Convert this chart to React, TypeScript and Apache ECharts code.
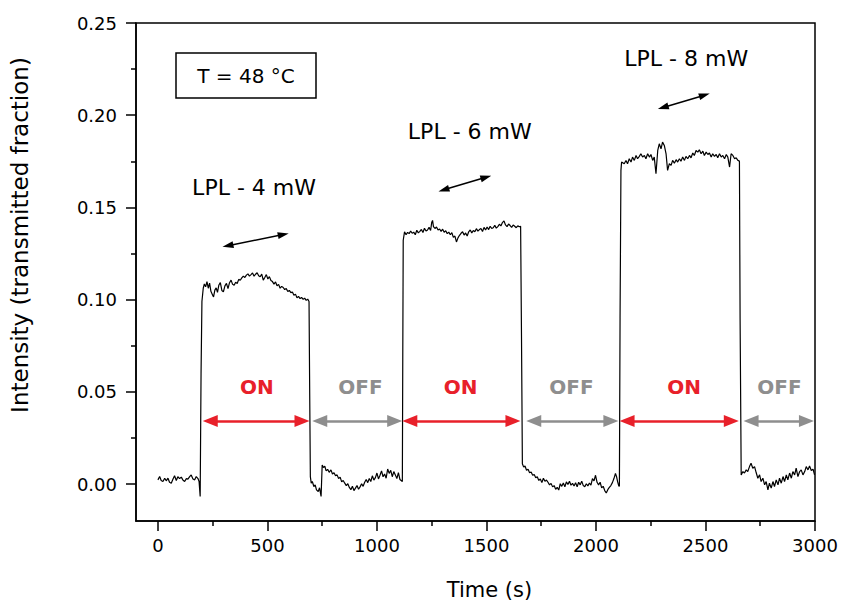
import React, { useEffect, useRef } from 'react';
import * as echarts from 'echarts';

// ---------- data (time in s, intensity as transmitted fraction) ----------
const base0: [number, number][] = [
  [0, 0.0023], [8, 0.0041], [15, 0.002], [23, 0.0014], [31, 0.0032], [38, 0.0018], [46, 0.0032], [53, 0.001],
  [61, 0.0005], [69, 0.0028], [76, 0.0045], [84, 0.002], [91, 0.004], [99, 0.003], [107, 0.0038], [114, 0.0022],
  [122, 0.0014], [130, 0.003], [137, 0.0027], [145, 0.0041], [152, 0.005], [160, 0.0028], [168, 0.0023],
  [175, 0.0041], [183, 0.003], [188, 0.0014], [193, -0.0067], [197, 0.06], [201, 0.099],
];
const on1: [number, number][] = [
  [207, 0.1062], [212, 0.1085], [218, 0.107], [224, 0.1098], [230, 0.1062], [236, 0.109], [242, 0.1045],
  [248, 0.103], [254, 0.1015], [260, 0.1052], [266, 0.1064], [272, 0.104], [278, 0.1078], [285, 0.1093],
  [292, 0.105], [299, 0.1042], [306, 0.1075], [313, 0.1088], [320, 0.106], [327, 0.1092], [334, 0.1106],
  [341, 0.1083], [348, 0.1078], [355, 0.1095], [362, 0.1088], [369, 0.111], [376, 0.1105], [383, 0.1118],
  [390, 0.1128], [397, 0.112], [404, 0.1133], [411, 0.114], [418, 0.1128], [425, 0.1136], [432, 0.1145],
  [439, 0.1127], [446, 0.1138], [453, 0.1146], [460, 0.113], [467, 0.1124], [474, 0.1139], [481, 0.1106],
  [488, 0.112], [495, 0.1136], [502, 0.1112], [509, 0.1125], [516, 0.1104], [523, 0.1098], [530, 0.1084],
  [537, 0.1096], [544, 0.1075], [551, 0.1083], [558, 0.1062], [565, 0.1072], [572, 0.1066], [579, 0.1055],
  [586, 0.106], [593, 0.1044], [600, 0.105], [607, 0.1038], [614, 0.1042], [621, 0.1024], [628, 0.103],
  [635, 0.101], [642, 0.1018], [649, 0.1006], [656, 0.1012], [663, 0.1002], [670, 0.1008], [677, 0.0996],
  [684, 0.1003], [690, 0.099], [693, 0.05],
];
const off1: [number, number][] = [
  [696, 0.0041], [700, 0.0005], [705, 0.0014], [712, -0.0013], [718, -0.0004], [724, -0.0031], [732, -0.004],
  [738, -0.002], [745, -0.0067], [750, 0.0104], [756, 0.009], [762, 0.0098], [768, 0.0072], [775, 0.008],
  [782, 0.0064], [790, 0.0077], [797, 0.0055], [804, 0.0062], [811, 0.0045], [818, 0.005], [825, 0.003],
  [832, 0.0038], [839, 0.0012], [846, 0.002], [853, 0.0005], [860, -0.0008], [867, 0.0002], [874, -0.0018],
  [881, -0.003], [888, -0.0012], [895, -0.0035], [902, -0.0022], [909, -0.0008], [916, -0.0028], [923, -0.0015],
  [930, 0.0002], [937, -0.0012], [944, 0.001], [951, 0.0025], [958, 0.0008], [965, 0.003], [972, 0.0014],
  [979, 0.0045], [986, 0.0022], [993, 0.0035], [1000, 0.006], [1007, 0.0028], [1014, 0.0048], [1021, 0.0072],
  [1028, 0.004], [1035, 0.0055], [1042, 0.0032], [1049, 0.0082], [1056, 0.0058], [1063, 0.0075], [1070, 0.004],
  [1077, 0.0068], [1084, 0.005], [1091, 0.003], [1098, 0.0062], [1105, 0.0025], [1112, 0.0018], [1116, 0.0014],
  [1118, 0.07],
];
const on2: [number, number][] = [
  [1120, 0.1322], [1126, 0.1368], [1133, 0.1352], [1140, 0.1365], [1147, 0.1358], [1154, 0.1372], [1161, 0.136],
  [1168, 0.1366], [1175, 0.1352], [1182, 0.1376], [1189, 0.1362], [1196, 0.137], [1203, 0.1381], [1210, 0.1364],
  [1217, 0.1387], [1224, 0.1372], [1231, 0.1378], [1238, 0.1392], [1245, 0.1375], [1250, 0.1418], [1254, 0.143],
  [1258, 0.1396], [1265, 0.1386], [1272, 0.1394], [1279, 0.1378], [1286, 0.1383], [1293, 0.137], [1300, 0.1382],
  [1307, 0.1365], [1314, 0.1374], [1321, 0.1358], [1328, 0.1366], [1335, 0.1352], [1342, 0.1363], [1349, 0.1338],
  [1356, 0.1345], [1363, 0.1313], [1370, 0.1335], [1377, 0.1349], [1384, 0.136], [1391, 0.1368], [1398, 0.135],
  [1405, 0.1362], [1412, 0.1345], [1419, 0.1368], [1426, 0.1378], [1433, 0.1362], [1440, 0.1375], [1447, 0.1368],
  [1454, 0.1385], [1461, 0.1372], [1468, 0.138], [1475, 0.1386], [1482, 0.137], [1489, 0.1392], [1496, 0.1378],
  [1503, 0.1394], [1510, 0.138], [1517, 0.1398], [1524, 0.1386], [1531, 0.139], [1538, 0.1403], [1545, 0.1388],
  [1552, 0.1396], [1559, 0.1409], [1566, 0.14], [1573, 0.1418], [1580, 0.1427], [1587, 0.1405], [1594, 0.1396],
  [1601, 0.141], [1608, 0.1402], [1615, 0.1392], [1622, 0.1405], [1629, 0.1398], [1636, 0.139], [1643, 0.14],
  [1650, 0.1395], [1656, 0.1398], [1660, 0.08],
];
const off2: [number, number][] = [
  [1664, 0.011], [1670, 0.0092], [1676, 0.0098], [1683, 0.0075], [1690, 0.008], [1697, 0.0062], [1704, 0.0066],
  [1711, 0.0048], [1718, 0.0052], [1725, 0.0035], [1732, 0.004], [1739, 0.002], [1746, 0.0028], [1753, 0.0008],
  [1760, 0.0032], [1767, 0.0015], [1774, 0.0022], [1781, 0.001], [1788, -0.0004], [1795, 0.0004], [1802, -0.0015],
  [1809, -0.0008], [1816, -0.0028], [1823, -0.0018], [1830, -0.0032], [1837, 0.0002], [1844, -0.0012],
  [1851, 0.0006], [1858, -0.0014], [1865, 0.0012], [1872, -0.0002], [1879, 0.0015], [1886, -0.0006],
  [1893, 0.0004], [1900, -0.001], [1907, 0.0008], [1914, -0.0014], [1921, 0.001], [1928, -0.0004], [1935, 0.0016],
  [1942, -0.0008], [1949, -0.0014], [1956, 0.0002], [1963, -0.001], [1970, 0.0006], [1977, -0.0005], [1984, 0.003],
  [1991, 0.0018], [1998, 0.0048], [2005, 0.001], [2012, -0.0004], [2019, 0.001], [2026, -0.002], [2033, -0.0012],
  [2040, -0.0035], [2047, -0.0048], [2054, -0.003], [2061, -0.0018], [2068, -0.0008], [2075, 0.0008],
  [2082, 0.003], [2089, 0.0058], [2094, 0.004], [2099, 0.0012], [2104, -0.001], [2107, -0.0012], [2110, 0.09],
];
const on3: [number, number][] = [
  [2114, 0.1701], [2117, 0.1746], [2129, 0.1737], [2137, 0.1755], [2144, 0.1737], [2152, 0.1764], [2160, 0.1746],
  [2167, 0.1773], [2175, 0.1755], [2183, 0.1782], [2190, 0.1764], [2198, 0.1777], [2205, 0.1791], [2213, 0.1773],
  [2221, 0.1782], [2228, 0.1764], [2236, 0.1791], [2244, 0.1773], [2251, 0.1787], [2259, 0.1755], [2266, 0.1773],
  [2274, 0.1683], [2282, 0.1809], [2289, 0.1845], [2297, 0.1818], [2304, 0.1854], [2312, 0.1836], [2320, 0.1791],
  [2327, 0.1701], [2335, 0.1737], [2343, 0.1728], [2350, 0.1755], [2358, 0.174], [2366, 0.1759], [2373, 0.1746],
  [2381, 0.1764], [2388, 0.1751], [2396, 0.1773], [2404, 0.1755], [2411, 0.1777], [2419, 0.1764], [2427, 0.1782],
  [2434, 0.1769], [2442, 0.1795], [2449, 0.1782], [2457, 0.1809], [2465, 0.18], [2472, 0.1813], [2480, 0.1791],
  [2488, 0.1805], [2495, 0.1782], [2503, 0.18], [2511, 0.1787], [2518, 0.1795], [2526, 0.1773], [2533, 0.1791],
  [2541, 0.1777], [2549, 0.1787], [2556, 0.1769], [2564, 0.1791], [2572, 0.1773], [2579, 0.1782], [2587, 0.1764],
  [2595, 0.1787], [2602, 0.1773], [2610, 0.1719], [2617, 0.1791], [2625, 0.1782], [2633, 0.1764], [2640, 0.1769],
  [2648, 0.1755], [2655, 0.1751], [2658, 0.09],
];
const off3: [number, number][] = [
  [2663, 0.005], [2671, 0.0068], [2678, 0.006], [2686, 0.0077], [2693, 0.0068], [2701, 0.0095], [2708, 0.0113],
  [2716, 0.0086], [2724, 0.0095], [2732, 0.006], [2739, 0.0032], [2747, 0.005], [2754, 0.0014], [2762, 0.0032],
  [2770, -0.0004], [2777, 0.0014], [2785, -0.0031], [2792, 0.0005], [2800, -0.0022], [2808, 0.0014],
  [2815, -0.0013], [2823, 0.0023], [2831, -0.0004], [2838, 0.0032], [2846, 0.0005], [2854, 0.0041],
  [2861, 0.0014], [2869, 0.005], [2876, 0.0023], [2884, 0.006], [2892, 0.0032], [2899, 0.0068], [2907, 0.005],
  [2914, 0.0086], [2922, 0.0041], [2930, 0.0068], [2937, 0.0077], [2945, 0.005], [2953, 0.0068], [2960, 0.0095],
  [2968, 0.0077], [2975, 0.0099], [2983, 0.0074], [2991, 0.0081], [2998, 0.005],
];

const xMajorTicks = [0, 500, 1000, 1500, 2000, 2500, 3000];
const xMinorTicks = [250, 750, 1250, 1750, 2250, 2750];
const yMajorTicks = [0, 0.05, 0.1, 0.15, 0.2, 0.25];
const yMinorTicks = [0.025, 0.075, 0.125, 0.175, 0.225];

const onSpans: [number, number][] = [[207, 690], [1118, 1653], [2110, 2650]];
const offSpans: [number, number][] = [[707, 1113], [1684, 2100], [2676, 2993]];
const spanLevel = 0.0342;
const onLabels: [number, number][] = [[452, 0.0526], [1382, 0.0526], [2403, 0.0526]];
const offLabels: [number, number][] = [[925, 0.0526], [1888, 0.0526], [2838, 0.0526]];
const powerLabels: [number, number, string][] = [
  [439, 0.161, 'LPL - 4 mW'],
  [1424, 0.1912, 'LPL - 6 mW'],
  [2412, 0.2305, 'LPL - 8 mW'],
];
const driftArrows: [number, number][][] = [
  [[288, 0.1285], [604, 0.1361]],
  [[1281, 0.1587], [1522, 0.1672]],
  [[2283, 0.2034], [2519, 0.2117]],
];
const tempLabel = 'T = 48 °C';

const FONT = 'DejaVu Sans';
const RED = '#e8202a';
const GRAY = '#8e8e8e';
const SPAN_INSET = 32; // seconds, so the head tips meet the span ends
const DRIFT_INSET = 0.1; // fraction of arrow length

const trace = [...base0, ...on1, ...off1, ...on2, ...off2, ...on3, ...off3];

function spanLines(spans: [number, number][]) {
  return spans.map(([a, b]) => ({ coords: [[a + SPAN_INSET, spanLevel], [b - SPAN_INSET, spanLevel]] }));
}

export default function App() {
  const ref = useRef<HTMLDivElement>(null);
  useEffect(() => {
    if (!ref.current) return;
    const chart = echarts.init(ref.current, undefined, { renderer: 'svg' });
    const axisLineStyle = { color: '#000', width: 1.5 };
    const labelItemStyle = { color: 'transparent', opacity: 1 };
    const option: any = {
      animation: false,
      grid: {
        left: 136, right: 26, top: 23, bottom: 84,
        show: true, borderColor: '#000', borderWidth: 1.5, backgroundColor: 'transparent',
        containLabel: false, outerBoundsMode: 'none',
      },
      xAxis: [
        {
          type: 'value', min: -100, max: 3000, position: 'bottom',
          axisLine: { show: true, onZero: false, lineStyle: axisLineStyle },
          axisTick: { show: true, inside: false, length: 10, customValues: xMajorTicks, lineStyle: axisLineStyle },
          axisLabel: {
            show: true, customValues: xMajorTicks, margin: 15, fontSize: 18, color: '#000', fontFamily: FONT,
            formatter: (v: number) => String(v),
          },
          splitLine: { show: false },
          name: 'Time (s)', nameLocation: 'middle', nameGap: 58,
          nameTextStyle: { fontSize: 21, color: '#000', fontFamily: FONT, padding: [0, 0, 0, 28] },
        },
        {
          type: 'value', min: -100, max: 3000, position: 'bottom',
          axisLine: { show: false, onZero: false },
          axisTick: { show: true, inside: false, length: 5, customValues: xMinorTicks, lineStyle: axisLineStyle },
          axisLabel: { show: false },
          splitLine: { show: false },
        },
      ],
      yAxis: [
        {
          type: 'value', min: -0.02, max: 0.25, position: 'left',
          axisLine: { show: true, onZero: false, lineStyle: axisLineStyle },
          axisTick: { show: true, inside: false, length: 10, customValues: yMajorTicks, lineStyle: axisLineStyle },
          axisLabel: {
            show: true, customValues: yMajorTicks, margin: 19, fontSize: 18, color: '#000', fontFamily: FONT,
            formatter: (v: number) => v.toFixed(2),
          },
          splitLine: { show: false },
          name: 'Intensity (transmitted fraction)', nameLocation: 'middle', nameGap: 105,
          nameTextStyle: { fontSize: 23, color: '#000', fontFamily: FONT, padding: [0, 0, 0, 74] },
        },
        {
          type: 'value', min: -0.02, max: 0.25, position: 'left',
          axisLine: { show: false, onZero: false },
          axisTick: { show: true, inside: false, length: 5, customValues: yMinorTicks, lineStyle: axisLineStyle },
          axisLabel: { show: false },
          splitLine: { show: false },
        },
      ],
      series: [
        {
          type: 'line', data: trace, xAxisIndex: 0, yAxisIndex: 0, symbol: 'none', smooth: false,
          lineStyle: { color: '#000', width: 1.2 }, silent: true, z: 3,
        },
        {
          type: 'lines', coordinateSystem: 'cartesian2d', xAxisIndex: 0, yAxisIndex: 0,
          symbol: ['triangle', 'triangle'], symbolSize: [[12, 15], [12, 15]],
          lineStyle: { color: RED, width: 2.5, opacity: 1, curveness: 0 },
          data: spanLines(onSpans), silent: true, z: 4,
        },
        {
          type: 'lines', coordinateSystem: 'cartesian2d', xAxisIndex: 0, yAxisIndex: 0,
          symbol: ['triangle', 'triangle'], symbolSize: [[12, 15], [12, 15]],
          lineStyle: { color: GRAY, width: 2.5, opacity: 1, curveness: 0 },
          data: spanLines(offSpans), silent: true, z: 4,
        },
        {
          type: 'lines', coordinateSystem: 'cartesian2d', xAxisIndex: 0, yAxisIndex: 0,
          symbol: ['triangle', 'triangle'], symbolSize: [[7, 11], [7, 11]],
          lineStyle: { color: '#000', width: 1.5, opacity: 1, curveness: 0 },
          data: driftArrows.map(([p, q]) => {
            const dx = q[0] - p[0];
            const dy = q[1] - p[1];
            return {
              coords: [
                [p[0] + dx * DRIFT_INSET, p[1] + dy * DRIFT_INSET],
                [q[0] - dx * DRIFT_INSET, q[1] - dy * DRIFT_INSET],
              ],
            };
          }),
          silent: true, z: 4,
        },
        {
          type: 'scatter', xAxisIndex: 0, yAxisIndex: 0, symbolSize: 1, itemStyle: labelItemStyle,
          data: powerLabels.map(([x, y, t]) => ({ value: [x, y], label: { formatter: t } })),
          label: { show: true, position: 'inside', color: '#000', fontSize: 22, fontFamily: FONT },
          silent: true, z: 5,
        },
        {
          type: 'scatter', xAxisIndex: 0, yAxisIndex: 0, symbolSize: 1, itemStyle: labelItemStyle,
          data: onLabels.map(([x, y]) => ({ value: [x, y], label: { formatter: 'ON' } })),
          label: { show: true, position: 'inside', color: RED, fontSize: 20, fontWeight: 'bold', fontFamily: FONT },
          silent: true, z: 5,
        },
        {
          type: 'scatter', xAxisIndex: 0, yAxisIndex: 0, symbolSize: 1, itemStyle: labelItemStyle,
          data: offLabels.map(([x, y]) => ({ value: [x, y], label: { formatter: 'OFF' } })),
          label: { show: true, position: 'inside', color: GRAY, fontSize: 20, fontWeight: 'bold', fontFamily: FONT },
          silent: true, z: 5,
        },
      ],
      graphic: [
        {
          type: 'rect', shape: { x: 176, y: 53, width: 140, height: 45 },
          style: { fill: 'none', stroke: '#000', lineWidth: 1.5 }, silent: true,
        },
        {
          type: 'text', x: 246, y: 75.5,
          style: { text: tempLabel, fontSize: 20, fontFamily: FONT, fill: '#000', align: 'center', verticalAlign: 'middle' },
          silent: true,
        },
      ],
    };
    chart.setOption(option);
    return () => chart.dispose();
  }, []);
  return (
    <div
      ref={ref}
      style={{ position: 'fixed', left: 0, top: 0, width: 841, height: 605, background: '#fff' }}
    />
  );
}
